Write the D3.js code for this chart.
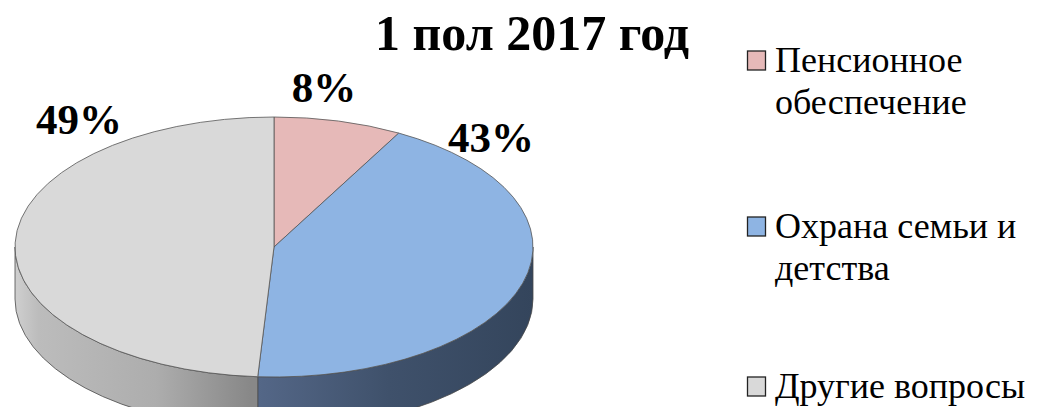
<!DOCTYPE html>
<html>
<head>
<meta charset="utf-8">
<script src="https://cdn.jsdelivr.net/npm/d3@7"></script>
<style>
  body { margin: 0; background: #fff; }
  svg { display: block; }
</style>
</head>
<body>
<div id="chart"></div>
<script>
var title = "1 пол 2017 год";
var categories = ["Пенсионное обеспечение", "Охрана семьи и детства", "Другие вопросы"];
var legendLines = [["Пенсионное", "обеспечение"], ["Охрана семьи и", "детства"], ["Другие вопросы"]];
var values = [8, 43, 49];
var topColors = ["#e6b9b8", "#8eb4e3", "#d9d9d9"];

var w = 1039, h = 407;
var cx = 274, cy = 247, rx = 259, ry = 130, depth = 52;
var font = "'Liberation Serif', 'Times New Roman', serif";

var svg = d3.select("#chart").append("svg")
  .attr("width", w)
  .attr("height", h);

var defs = svg.append("defs");
// side wall shading
var gradGray = defs.append("linearGradient")
  .attr("id", "sideGray").attr("gradientUnits", "userSpaceOnUse")
  .attr("x1", cx - rx).attr("x2", 250).attr("y1", 0).attr("y2", 0);
gradGray.append("stop").attr("offset", 0).attr("stop-color", "#cfcfcf");
gradGray.append("stop").attr("offset", 0.1).attr("stop-color", "#bcbcbc");
gradGray.append("stop").attr("offset", 0.6).attr("stop-color", "#adadad");
gradGray.append("stop").attr("offset", 1).attr("stop-color", "#888888");
var gradBlue = defs.append("linearGradient")
  .attr("id", "sideBlue").attr("gradientUnits", "userSpaceOnUse")
  .attr("x1", 245).attr("x2", cx + rx).attr("y1", 0).attr("y2", 0);
gradBlue.append("stop").attr("offset", 0).attr("stop-color", "#56698a");
gradBlue.append("stop").attr("offset", 0.5).attr("stop-color", "#3f516b");
gradBlue.append("stop").attr("offset", 1).attr("stop-color", "#34455c");
var sideFills = ["#8a6e6d", "url(#sideBlue)", "url(#sideGray)"];

var pie = d3.pie().sort(null).value(function(d) { return d; });
var arcs = pie(values);

function px(a) { return cx + rx * Math.sin(a); }
function py(a, dz) { return cy - ry * Math.cos(a) + (dz || 0); }

function topPath(d) {
  var p = "M" + cx + "," + cy + "L" + px(d.startAngle) + "," + py(d.startAngle);
  var large = (d.endAngle - d.startAngle) > Math.PI ? 1 : 0;
  p += "A" + rx + "," + ry + " 0 " + large + " 1 " + px(d.endAngle) + "," + py(d.endAngle) + "Z";
  return p;
}

function sidePath(d) {
  // only the front half of the rim is visible
  var a0 = Math.max(d.startAngle, Math.PI / 2);
  var a1 = Math.min(d.endAngle, Math.PI * 1.5);
  if (a1 <= a0) return null;
  var large = (a1 - a0) > Math.PI ? 1 : 0;
  return "M" + px(a0) + "," + py(a0) +
    "A" + rx + "," + ry + " 0 " + large + " 1 " + px(a1) + "," + py(a1) +
    "L" + px(a1) + "," + py(a1, depth) +
    "A" + rx + "," + ry + " 0 " + large + " 0 " + px(a0) + "," + py(a0, depth) + "Z";
}

var g = svg.append("g");

g.selectAll("path.side")
  .data(arcs.filter(function(d) { return sidePath(d); }))
  .enter()
  .append("path")
  .attr("class", "side")
  .attr("d", sidePath)
  .attr("fill", function(d) { return sideFills[d.index]; })
  .attr("stroke", "#4a4a4a")
  .attr("stroke-width", 0.8);

g.selectAll("path.top")
  .data(arcs)
  .enter()
  .append("path")
  .attr("class", "top")
  .attr("d", topPath)
  .attr("fill", function(d, i) { return topColors[i]; })
  .attr("stroke", "#555")
  .attr("stroke-width", 0.8);

// percent labels
var labelPos = [[324, 102], [491, 152], [79, 134]];
svg.selectAll("text.pct")
  .data(arcs)
  .enter()
  .append("text")
  .attr("class", "pct")
  .attr("x", function(d) { return labelPos[d.index][0]; })
  .attr("y", function(d) { return labelPos[d.index][1]; })
  .attr("text-anchor", "middle")
  .style("font-family", font)
  .style("font-weight", "bold")
  .style("font-size", "43px")
  .text(function(d) { return Math.round(d.value) + "%"; });

svg.append("text")
  .attr("x", 532)
  .attr("y", 50)
  .attr("text-anchor", "middle")
  .style("font-family", font)
  .style("font-weight", "bold")
  .style("font-size", "50px")
  .text(title);

// legend
var legendY = [72, 238, 398];
var legend = svg.selectAll("g.legend")
  .data(categories)
  .enter()
  .append("g")
  .attr("class", "legend");

legend.append("rect")
  .attr("x", 747.5)
  .attr("y", function(d, i) { return legendY[i] - 21; })
  .attr("width", 18)
  .attr("height", 19)
  .attr("fill", function(d, i) { return topColors[i]; })
  .attr("stroke", "#222")
  .attr("stroke-width", 1.3);

legend.append("text")
  .attr("x", 775)
  .attr("y", function(d, i) { return legendY[i]; })
  .style("font-family", font)
  .style("font-size", "36px")
  .selectAll("tspan")
  .data(function(d, i) { return legendLines[i]; })
  .enter()
  .append("tspan")
  .attr("x", 775)
  .attr("dy", function(d, j) { return j ? 42 : 0; })
  .text(function(d) { return d; });
</script>
</body>
</html>
